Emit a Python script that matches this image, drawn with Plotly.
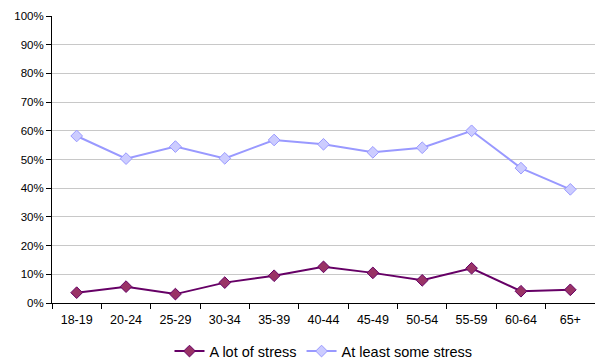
import plotly.graph_objects as go

age_groups = ["18-19", "20-24", "25-29", "30-34", "35-39", "40-44",
              "45-49", "50-54", "55-59", "60-64", "65+"]
a_lot_of_stress = [0.036, 0.057, 0.031, 0.071, 0.095, 0.126,
                   0.105, 0.079, 0.121, 0.041, 0.046]
at_least_some_stress = [0.582, 0.503, 0.545, 0.504, 0.568, 0.553,
                        0.525, 0.541, 0.600, 0.470, 0.396]
y_ticks = [i / 10 for i in range(11)]

fig = go.Figure()
fig.add_trace(go.Scatter(
    x=age_groups, y=a_lot_of_stress, name="A lot of stress",
    mode="lines+markers",
    line=dict(color="#660066", width=2),
    marker=dict(symbol="diamond", size=9, color="#993366",
                line=dict(color="#660066", width=1)),
))
fig.add_trace(go.Scatter(
    x=age_groups, y=at_least_some_stress, name="At least some stress",
    mode="lines+markers",
    line=dict(color="#9999FF", width=2),
    marker=dict(symbol="diamond", size=9, color="#CCCCFF",
                line=dict(color="#9999FF", width=1)),
))

fig.update_layout(
    width=595, height=362,
    margin=dict(l=52, r=0, t=16, b=59),
    paper_bgcolor="white", plot_bgcolor="white",
    font=dict(family="Liberation Sans, Arial, sans-serif", size=11, color="black"),
    showlegend=True,
    legend=dict(orientation="h", x=0.5, xanchor="center",
                yref="container", y=0.03, yanchor="middle",
                font=dict(size=14.5), itemwidth=30, tracegroupgap=0),
)
fig.update_xaxes(
    type="category", tickson="boundaries", ticks="outside", ticklen=5,
    tickcolor="black", showline=True, linecolor="black", linewidth=1,
    showgrid=False, range=[-0.5, len(age_groups) - 0.5],
    tickfont=dict(size=12.5), ticklabelstandoff=5,
)
fig.update_yaxes(
    range=[0, 1], tickvals=y_ticks, tickformat=".0%", ticks="outside",
    ticklen=5, tickcolor="black", showline=True, linecolor="black",
    linewidth=1, showgrid=True, gridcolor="#C8C8C8", gridwidth=1,
    zeroline=False, tickfont=dict(size=11.5),
)

fig.write_html("out.html")
